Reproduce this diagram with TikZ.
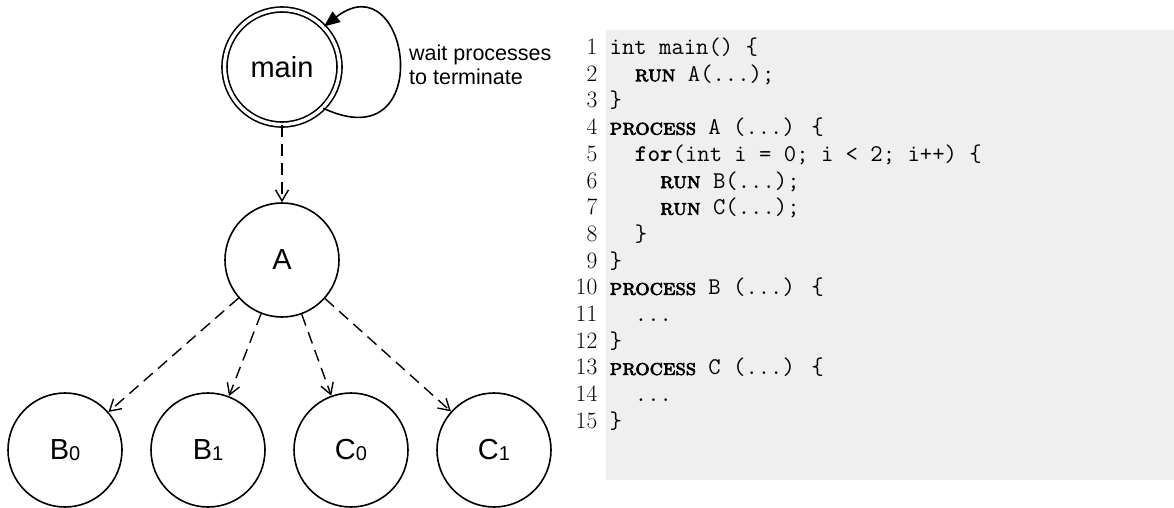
\documentclass[tikz,border=0pt]{standalone}
\usepackage{fontspec}
\usetikzlibrary{arrows.meta}
\newfontfamily\nodefont{Liberation Sans}
\newfontfamily\kwfont[FakeBold=3]{lmromancaps10-regular.otf}
\definecolor{codebg}{RGB}{239,239,239}
\newcommand{\kw}[1]{{\kwfont\fontsize{22.5}{22.5}\selectfont #1}}
\newcommand{\nsub}[1]{\raisebox{-1.5pt}{\fontsize{20}{20}\selectfont #1}}
\begin{document}
\begin{tikzpicture}[x=1pt,y=-1pt,
  state/.style={circle,draw,line width=1.6pt,minimum size=114pt,inner sep=0pt,
    font=\nodefont\fontsize{29}{29}\selectfont},
  startstate/.style={state,double,double distance=3.4pt,minimum size=115pt},
  call/.style={line width=1.4pt,dash pattern=on 12pt off 7pt,
    -{Straight Barb[length=11pt,width=13pt]}},
  loopedge/.style={line width=1.6pt,-{Triangle[length=16pt,width=13pt]}},
  note/.style={anchor=west,align=left,inner sep=0pt,
    font=\nodefont\fontsize{21.5}{24.5}\selectfont},
  code/.style={anchor=base west,inner sep=0pt,
    font=\ttfamily\fontsize{24}{26.7}\selectfont},
  num/.style={anchor=base east,inner sep=0pt,
    font=\rmfamily\fontsize{23.5}{26.7}\selectfont}]
\useasboundingbox (0,0) rectangle (1174,507);
\fill[codebg] (606,30) rectangle (1174,480);

% graph
\node[startstate] (main) at (282,67) {main};
\node[state] (A) at (282,260) {A};
\node[state] (B0) at (65,450) {B\nsub{0}};
\node[state] (B1) at (208,450) {B\nsub{1}};
\node[state] (C0) at (351,450) {C\nsub{0}};
\node[state] (C1) at (494,450) {C\nsub{1}};

\draw[loopedge] (main.-45) .. controls (438,162) and (410,-40) .. (main.44);
\node[note] (wait) at (409,65) {wait processes\\to terminate};

\draw[call] (main) -- (A);
\draw[call] (A) -- (B0);
\draw[call] (A) -- (B1);
\draw[call] (A) -- (C0);
\draw[call] (A) -- (C1);

% listing
\node[num] (n1)  at (597.5,54.5)  {1};
\node[num] (n2)  at (597.5,81.2)  {2};
\node[num] (n3)  at (597.5,107.9) {3};
\node[num] (n4)  at (597.5,134.6) {4};
\node[num] (n5)  at (597.5,161.3) {5};
\node[num] (n6)  at (597.5,188.0) {6};
\node[num] (n7)  at (597.5,214.7) {7};
\node[num] (n8)  at (597.5,241.4) {8};
\node[num] (n9)  at (597.5,268.1) {9};
\node[num] (n10) at (597.5,294.8) {10};
\node[num] (n11) at (597.5,321.5) {11};
\node[num] (n12) at (597.5,348.2) {12};
\node[num] (n13) at (597.5,374.9) {13};
\node[num] (n14) at (597.5,401.6) {14};
\node[num] (n15) at (597.5,428.3) {15};

\node[code] (l1)  at (609.5,54.5)  {int main() \{};
\node[code] (l2)  at (634.7,81.2)  {\kw{run} A(...);};
\node[code] (l3)  at (609.5,107.9) {\}};
\node[code] (l4)  at (609.5,134.6) {\kw{process} A (...) \{};
\node[code] (l5)  at (634.7,161.3) {{\bfseries for}(int i = 0; i < 2; i++) \{};
\node[code] (l6)  at (659.9,188.0) {\kw{run} B(...);};
\node[code] (l7)  at (659.9,214.7) {\kw{run} C(...);};
\node[code] (l8)  at (634.7,241.4) {\}};
\node[code] (l9)  at (609.5,268.1) {\}};
\node[code] (l10) at (609.5,294.8) {\kw{process} B (...) \{};
\node[code] (l11) at (634.7,321.5) {...};
\node[code] (l12) at (609.5,348.2) {\}};
\node[code] (l13) at (609.5,374.9) {\kw{process} C (...) \{};
\node[code] (l14) at (634.7,401.6) {...};
\node[code] (l15) at (609.5,428.3) {\}};
\end{tikzpicture}
\end{document}
